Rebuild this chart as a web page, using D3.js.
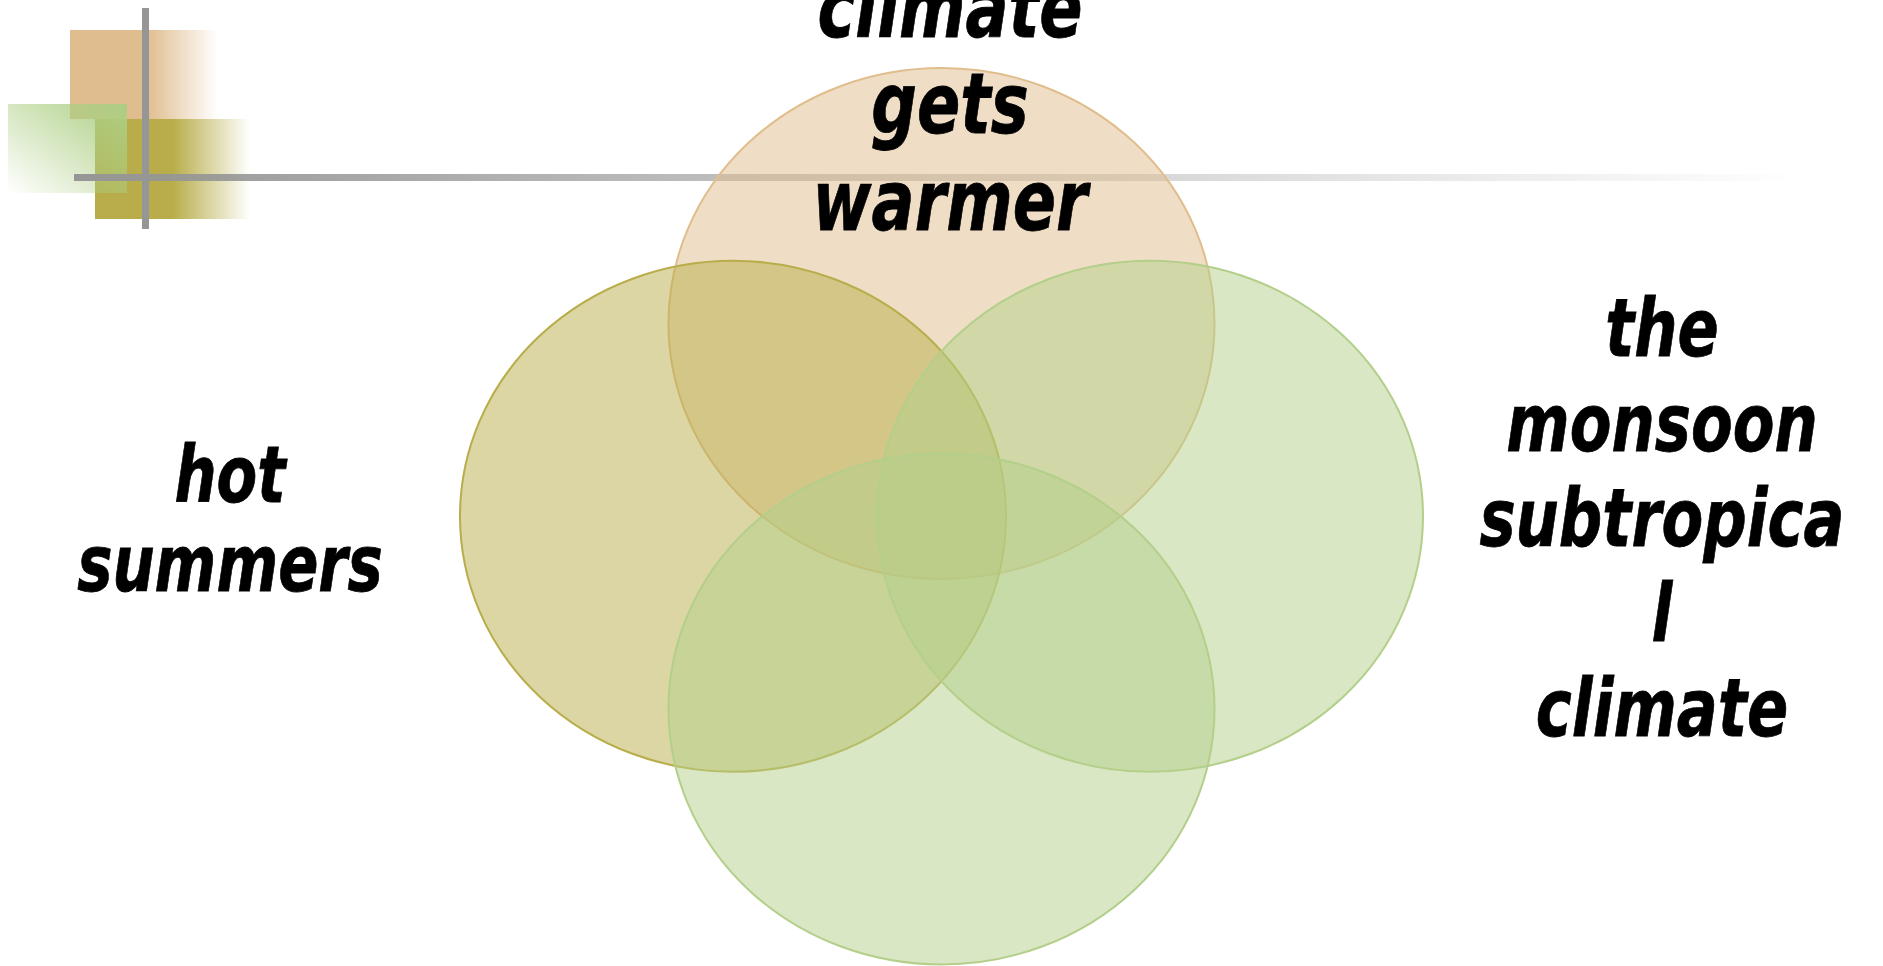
<!DOCTYPE html>
<html>
<head>
<meta charset="utf-8">
<script src="https://cdn.jsdelivr.net/npm/d3@7.9.0/dist/d3.min.js"></script>
<style>
  html, body { margin: 0; padding: 0; background: #fff; }
  svg { display: block; }
  .label { font-family: "DejaVu Sans", Verdana, sans-serif; font-weight: bold; font-style: italic; fill: #000; }
</style>
</head>
<body>
<svg id="chart" width="1883" height="966"></svg>
<script>
// data
const sets = ['climate', 'summers', 'monsoon', 'fourth'];
const setCol = [0, -1, 1, 0];   // grid column of each circle
const setRow = [-1, 0, 0, 1];   // grid row of each circle
const setColors = ['#e0bd8c', '#b8ad4a', '#b3cf8a', '#b3cf8a'];
const labelLines = [
  ['climate', 'gets', 'warmer'],
  ['hot', 'summers'],
  ['the', 'monsoon', 'subtropica', 'l', 'climate'],
  []
];

const W = 1883, H = 966;
const svg = d3.select('#chart');
const defs = svg.append('defs');

// scales for circle layout
let x = d3.scaleLinear().domain([-1, 1]).range([733, 1150]);
let y = d3.scaleLinear().domain([-1, 1]).range([323.5, 709]);
const rx = 273, ry = 255.5;

// --- corner decoration ---
function hGrad(id, color, solidTo) {
  let g = defs.append('linearGradient').attr('id', id).attr('x1', 0).attr('x2', 1).attr('y1', 0).attr('y2', 0);
  g.append('stop').attr('offset', 0).attr('stop-color', color);
  g.append('stop').attr('offset', solidTo).attr('stop-color', color);
  g.append('stop').attr('offset', 1).attr('stop-color', color).attr('stop-opacity', 0);
}
hGrad('gOrange', '#e0bd8f', 0.52);
hGrad('gOlive', '#b8ad4a', 0.5);

let gg = defs.append('linearGradient').attr('id', 'gGreen')
  .attr('x1', 1).attr('y1', 0).attr('x2', 0).attr('y2', 1);
gg.append('stop').attr('offset', 0).attr('stop-color', '#acce82');
gg.append('stop').attr('offset', 1).attr('stop-color', '#acce82').attr('stop-opacity', 0);

let lg = defs.append('linearGradient').attr('id', 'gLine')
  .attr('gradientUnits', 'userSpaceOnUse').attr('x1', 74).attr('x2', 1800).attr('y1', 0).attr('y2', 0);
lg.append('stop').attr('offset', 0).attr('stop-color', '#969696');
lg.append('stop').attr('offset', 1).attr('stop-color', '#969696').attr('stop-opacity', 0);

const deco = svg.append('g');
deco.append('rect').attr('x', 70).attr('y', 30).attr('width', 148).attr('height', 89).attr('fill', 'url(#gOrange)');
deco.append('rect').attr('x', 95).attr('y', 119).attr('width', 155).attr('height', 100).attr('fill', 'url(#gOlive)');
deco.append('rect').attr('x', 8).attr('y', 104).attr('width', 119).attr('height', 89).attr('fill', 'url(#gGreen)');
deco.append('rect').attr('x', 74).attr('y', 174).attr('width', 1726).attr('height', 7).attr('fill', 'url(#gLine)');
deco.append('rect').attr('x', 142).attr('y', 8).attr('width', 7).attr('height', 221).attr('fill', '#969696');

// --- circles ---
svg.append('g')
  .selectAll('ellipse')
  .data(sets)
  .join('ellipse')
  .attr('cx', (d, i) => x(setCol[i]))
  .attr('cy', (d, i) => y(setRow[i]))
  .attr('rx', rx)
  .attr('ry', ry)
  .attr('fill', (d, i) => setColors[i])
  .attr('fill-opacity', 0.5)
  .attr('stroke', (d, i) => setColors[i])
  .attr('stroke-width', 2);

// --- labels ---
const labelPos = [
  { cx: 950, y0: 37, size: 84, lh: 96.5 },
  { cx: 230, y0: 502, size: 78, lh: 89 },
  { cx: 1662, y0: 356, size: 80, lh: 95 },
  { cx: 0, y0: 0, size: 0, lh: 0 }
];
const squeeze = 0.76;

labelLines.forEach((lines, i) => {
  if (!lines.length) return;
  let p = labelPos[i];
  let t = svg.append('text')
    .attr('class', 'label')
    .attr('text-anchor', 'middle')
    .attr('font-size', p.size)
    .attr('stroke', '#000')
    .attr('stroke-width', 0.8)
    .attr('transform', `translate(${p.cx},0) scale(${squeeze},1)`);
  lines.forEach((line, j) => {
    t.append('tspan').attr('x', 0).attr('y', p.y0 + j * p.lh).text(line);
  });
});
</script>
</body>
</html>
